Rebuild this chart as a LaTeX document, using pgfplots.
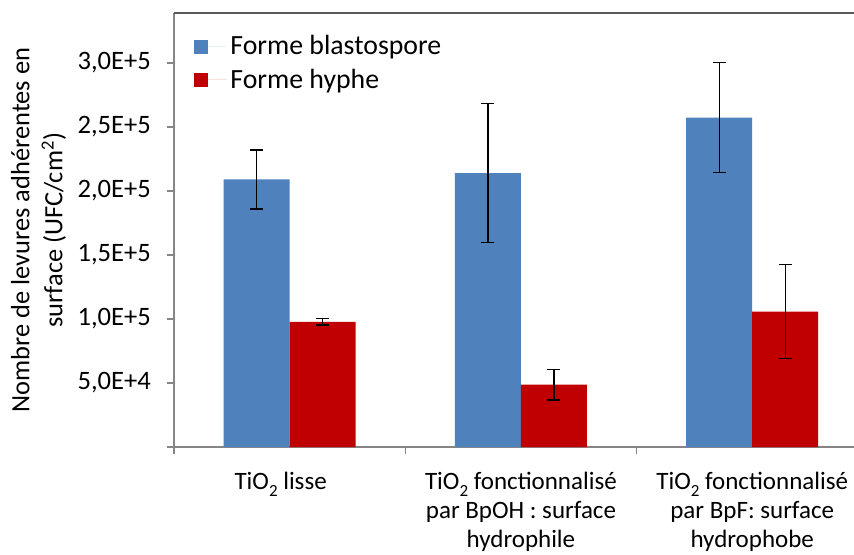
\documentclass[border=0pt]{standalone}
\usepackage{fontspec}
\setmainfont{Carlito}
\usepackage{pgfplots}
\pgfplotsset{compat=1.18}
\definecolor{blasto}{HTML}{4F81BD}
\definecolor{hyphe}{HTML}{C00000}
\definecolor{axgray}{HTML}{868686}
\definecolor{topgray}{HTML}{595959}
\newcommand{\subtwo}{\raisebox{-0.6ex}{\fontsize{8.5}{9}\selectfont 2}}
\begin{document}
\begin{tikzpicture}
\begin{axis}[name=ax,
  width=340pt, height=217pt, scale only axis,
  xmin=-0.5, xmax=2.44, ymin=0, ymax=339000,
  axis x line=box, axis y line=left,
  xtick pos=left,
  axis line style={draw=axgray, line width=0.6pt, -},
  ybar=0pt, bar width=33pt,
  xtick={0,1,2},
  xticklabels={{TiO\subtwo{} lisse\hspace*{9pt}},
               {TiO\subtwo{} fonctionnalisé\\par BpOH : surface\\hydrophile},
               {TiO\subtwo{} fonctionnalisé\\par BpF: surface\\hydrophobe}},
  xtick style={draw=none},
  x tick label style={font=\fontsize{12.5}{14.6}\selectfont, align=center, anchor=north, yshift=-5.5pt},
  extra x ticks={-0.5,0.5,1.5}, extra x tick labels={},
  extra x tick style={xtick style={draw=axgray, line width=0.6pt}, major tick length=3.5pt, tick align=outside},
  ytick={0,50000,100000,150000,200000,250000,300000},
  yticklabels={,{5,0E+4},{1,0E+5},{1,5E+5},{2,0E+5},{2,5E+5},{3,0E+5}},
  ytick style={draw=axgray, line width=0.6pt},
  tick align=outside, major tick length=3.5pt,
  y tick label style={font=\fontsize{13.3}{15}\selectfont, xshift=-4.5pt},
  scaled y ticks=false,
  ylabel={Nombre de levures adhérentes en\\surface (UFC/cm\textsuperscript{2})},
  ylabel style={align=center, font=\fontsize{13.2}{16.5}\selectfont, at={(axis description cs:-0.1993,0.5)}, anchor=center},
  legend style={draw=none, fill=none, at={(0,1)}, anchor=north west, xshift=10pt, yshift=-9pt,
    font=\fontsize{13.9}{16.5}\selectfont, legend cell align=left, row sep=1.5pt, inner sep=0pt},
  legend image code/.code={\fill[#1] (0pt,-3.5pt) rectangle (7pt,3.5pt); \path (7pt,0pt) -- (16pt,0pt);},
  error bars/y dir=both, error bars/y explicit,
  error bars/error bar style={black, line width=0.65pt},
  error bars/error mark options={rotate=90, black, mark size=3.25pt, line width=0.65pt},
]
\addplot[fill=blasto, draw=none] coordinates {
  (0,209000) +- (0,23000)
  (1,214000) +- (0,54500)
  (2,257300) +- (0,43000)
};
\addplot[fill=hyphe, draw=none] coordinates {
  (0,97700) +- (0,2500)
  (1,48750) +- (0,12000)
  (2,105800) +- (0,36800)
};
\legend{Forme blastospore, Forme hyphe}
\end{axis}
\draw[topgray, line width=0.7pt] (ax.north west) -- (ax.north east);
\pgfresetboundingbox
\path (ax.south west) ++(-87pt,-53.5pt) rectangle ++(427pt,277pt);
\end{tikzpicture}
\end{document}
